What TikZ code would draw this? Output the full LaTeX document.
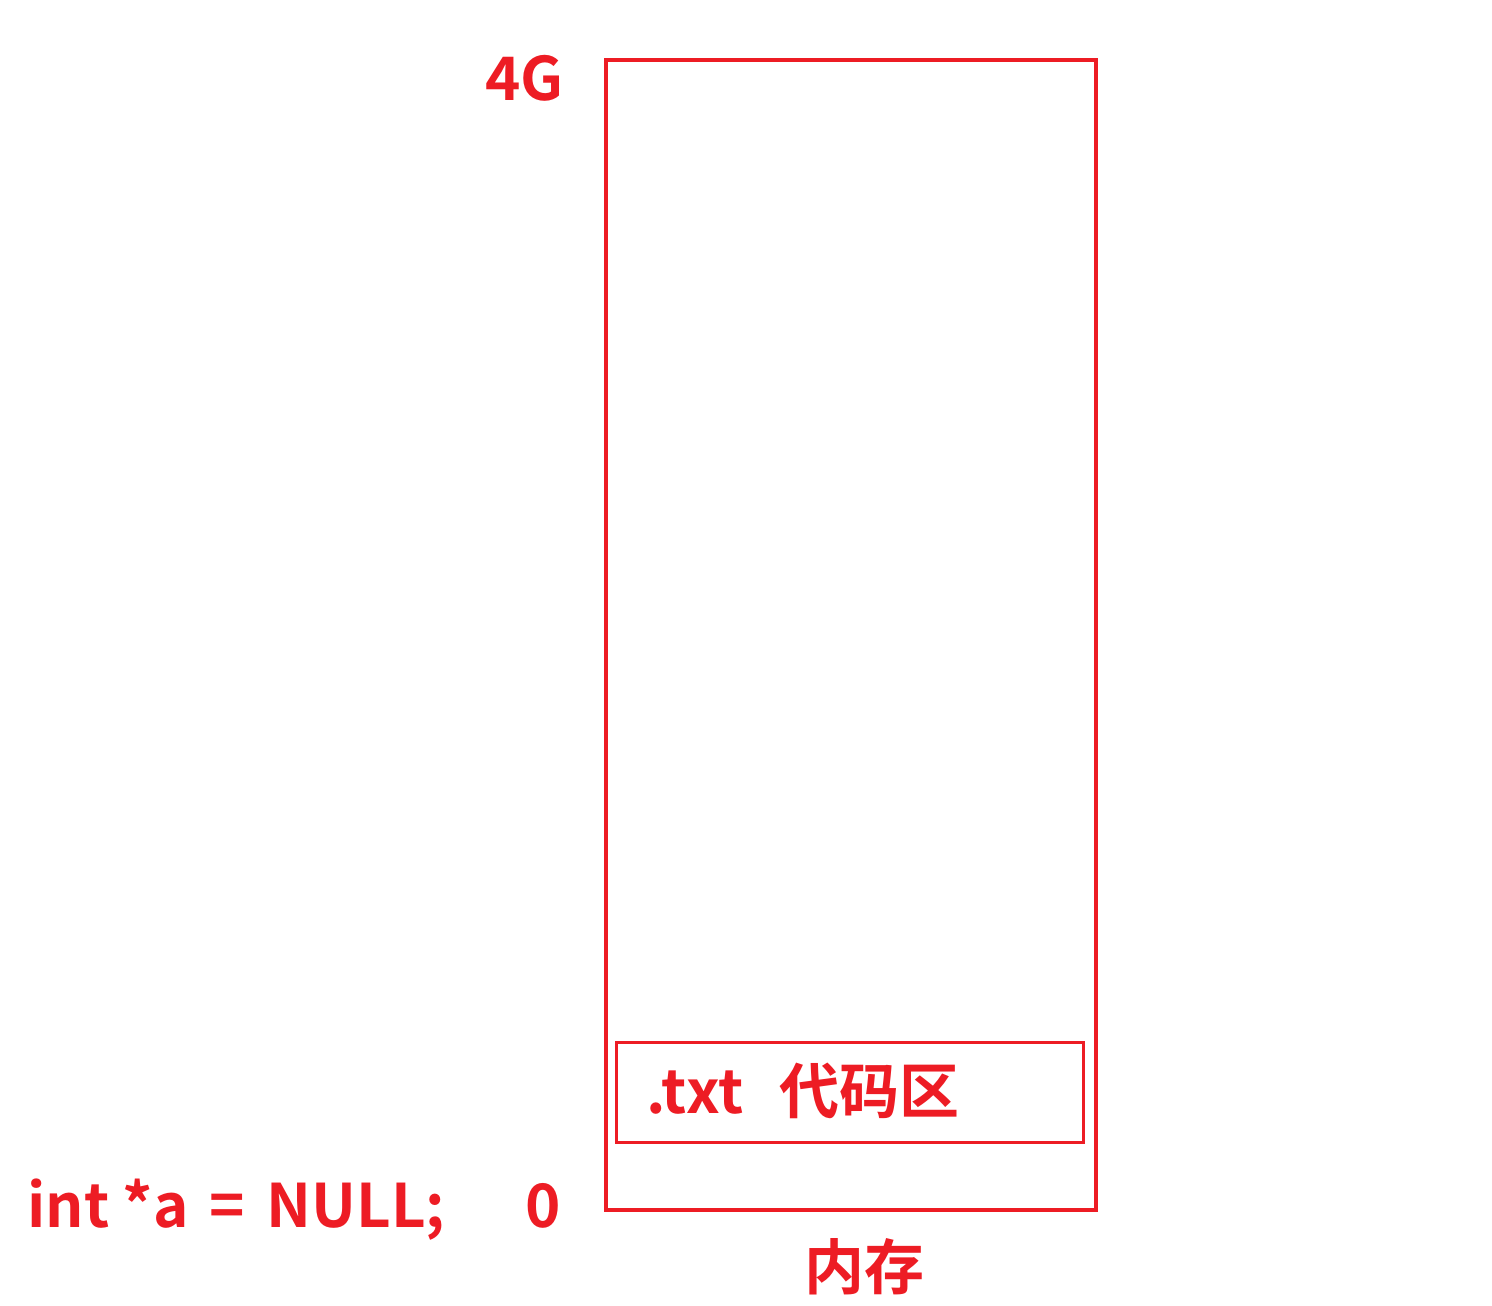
\documentclass[tikz,border=0pt]{standalone}
\usepackage{fontspec}
\setmainfont{Noto Sans CJK SC}[BoldFont={* Bold}]
\newfontfamily\cjk{Noto Sans CJK SC Bold}
\definecolor{memred}{HTML}{ED1C24}
\begin{document}
\begin{tikzpicture}[x=0.5pt,y=-0.5pt,
  box/.style={draw=memred,line width=1.6pt},
  lbl/.style={text=memred,font=\cjk\fontsize{30}{36}\selectfont,inner sep=0pt}]
\useasboundingbox (0,0) rectangle (1492,1305);
\draw[box] (606,60) rectangle (1096,1210);
\node[box,minimum width=233.5pt,minimum height=50pt,inner sep=0pt,anchor=north west] (code) at (615,1041) {};
\node[lbl,anchor=west] (codetxt) at (646,1091) {.txt\hspace{18pt}代码区};
\node[lbl,anchor=east] (top) at (564,78) {4G};
\node[lbl,anchor=east] (zero) at (561,1206) {0};
\node[lbl,anchor=west] (code2) at (27,1210) {int *a\hspace{3.5pt} =\hspace{4pt} NULL;};
\node[lbl,anchor=center] (mem) at (864,1267) {内存};
\end{tikzpicture}
\end{document}
